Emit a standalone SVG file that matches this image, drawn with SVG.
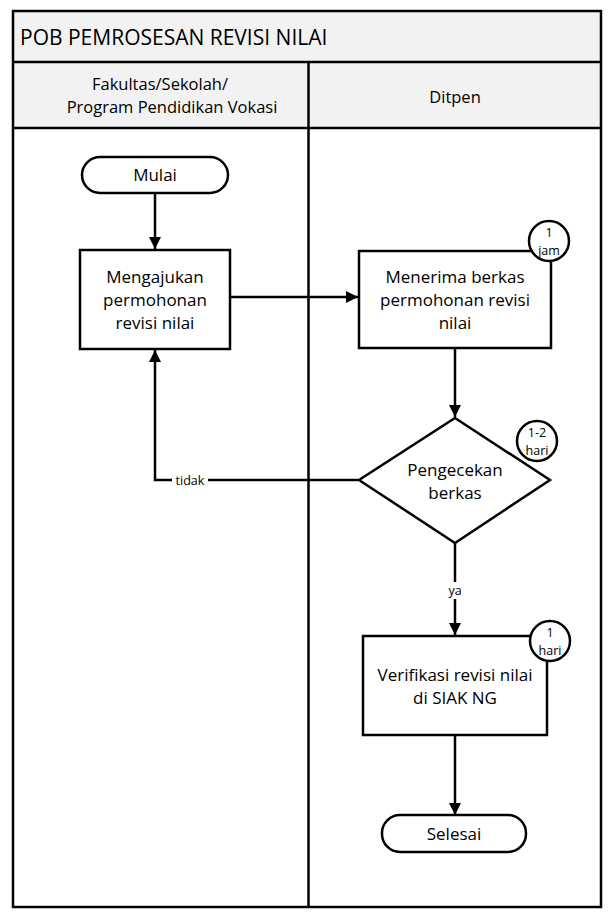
<svg xmlns="http://www.w3.org/2000/svg" width="614" height="920" viewBox="0 0 614 920">
<defs>
<style>
text{font-family:"Open Sans","Noto Sans",sans-serif;fill:#000}
.t{font-size:17px;text-anchor:middle}
.h{font-size:16.5px;text-anchor:middle}
.s{font-size:12.5px;text-anchor:middle}
.b{fill:#fff;stroke:#000;stroke-width:2.5}
.l{fill:none;stroke:#000;stroke-width:2.5}
.f{fill:none;stroke:#000;stroke-width:2.5}
</style>
<marker id="ah" markerWidth="12" markerHeight="12" viewBox="0 0 12 12" refX="12" refY="6" orient="auto" markerUnits="userSpaceOnUse">
<path d="M0,0 L12,6 L0,12 z" fill="#000"/>
</marker>
</defs>
<rect x="0" y="0" width="614" height="920" fill="#fff"/>
<g id="frame">
<rect x="13" y="11" width="588" height="117" fill="#f2f2f2"/>
<rect x="13" y="11" width="588" height="896" class="f"/>
<line x1="13" y1="62" x2="601" y2="62" class="f"/>
<line x1="13" y1="128" x2="601" y2="128" class="f"/>
<line x1="308.5" y1="62" x2="308.5" y2="907" class="f"/>
<text x="20" y="45" style="font-size:21px">POB PEMROSESAN REVISI NILAI</text>
<text x="160" y="90" class="h">Fakultas/Sekolah/</text>
<text x="172" y="113" class="h">Program Pendidikan Vokasi</text>
<text x="455" y="103" class="h">Ditpen</text>
</g>
<g id="connectors">
<line x1="155" y1="193" x2="155" y2="249" class="l" marker-end="url(#ah)"/>
<line x1="230" y1="297" x2="358" y2="297" class="l" marker-end="url(#ah)"/>
<line x1="455" y1="348" x2="455" y2="417" class="l" marker-end="url(#ah)"/>
<polyline points="358,480 155,480 155,350" class="l" marker-end="url(#ah)"/>
<rect x="172" y="472" width="36" height="16" fill="#fff"/>
<text x="190" y="485" class="s">tidak</text>
<line x1="455" y1="543" x2="455" y2="635" class="l" marker-end="url(#ah)"/>
<rect x="444" y="582" width="22" height="17" fill="#fff"/>
<text x="455" y="595" class="s">ya</text>
<line x1="455" y1="735" x2="455" y2="815" class="l" marker-end="url(#ah)"/>
</g>
<g id="mulai">
<rect x="82" y="157" width="146" height="36" rx="18" class="b"/>
<text x="155" y="181" class="t">Mulai</text>
</g>
<g id="mengajukan">
<rect x="80" y="250" width="150" height="99" class="b"/>
<text x="155" y="283" class="t">Mengajukan</text>
<text x="155" y="306" class="t">permohonan</text>
<text x="155" y="329" class="t">revisi nilai</text>
</g>
<g id="menerima">
<rect x="359" y="251" width="192" height="97" class="b"/>
<text x="455" y="283" class="t">Menerima berkas</text>
<text x="455" y="306" class="t">permohonan revisi</text>
<text x="455" y="329" class="t">nilai</text>
<circle cx="549" cy="241" r="20" class="b"/>
<text x="549" y="237" class="s">1</text>
<text x="549" y="255" class="s">jam</text>
</g>
<g id="pengecekan">
<polygon points="455,418 550,480 455,543 359,480" class="b"/>
<text x="455" y="476" class="t">Pengecekan</text>
<text x="455" y="499" class="t">berkas</text>
<circle cx="537" cy="441" r="20" class="b"/>
<text x="537" y="437" class="s">1-2</text>
<text x="537" y="455" class="s">hari</text>
</g>
<g id="verifikasi">
<rect x="363" y="636" width="184" height="99" class="b"/>
<text x="455" y="681" class="t">Verifikasi revisi nilai</text>
<text x="455" y="704" class="t">di SIAK NG</text>
<circle cx="550" cy="641" r="20" class="b"/>
<text x="550" y="637" class="s">1</text>
<text x="550" y="655" class="s">hari</text>
</g>
<g id="selesai">
<rect x="382" y="815" width="144" height="37" rx="18" class="b"/>
<text x="454" y="840" class="t">Selesai</text>
</g>
</svg>
